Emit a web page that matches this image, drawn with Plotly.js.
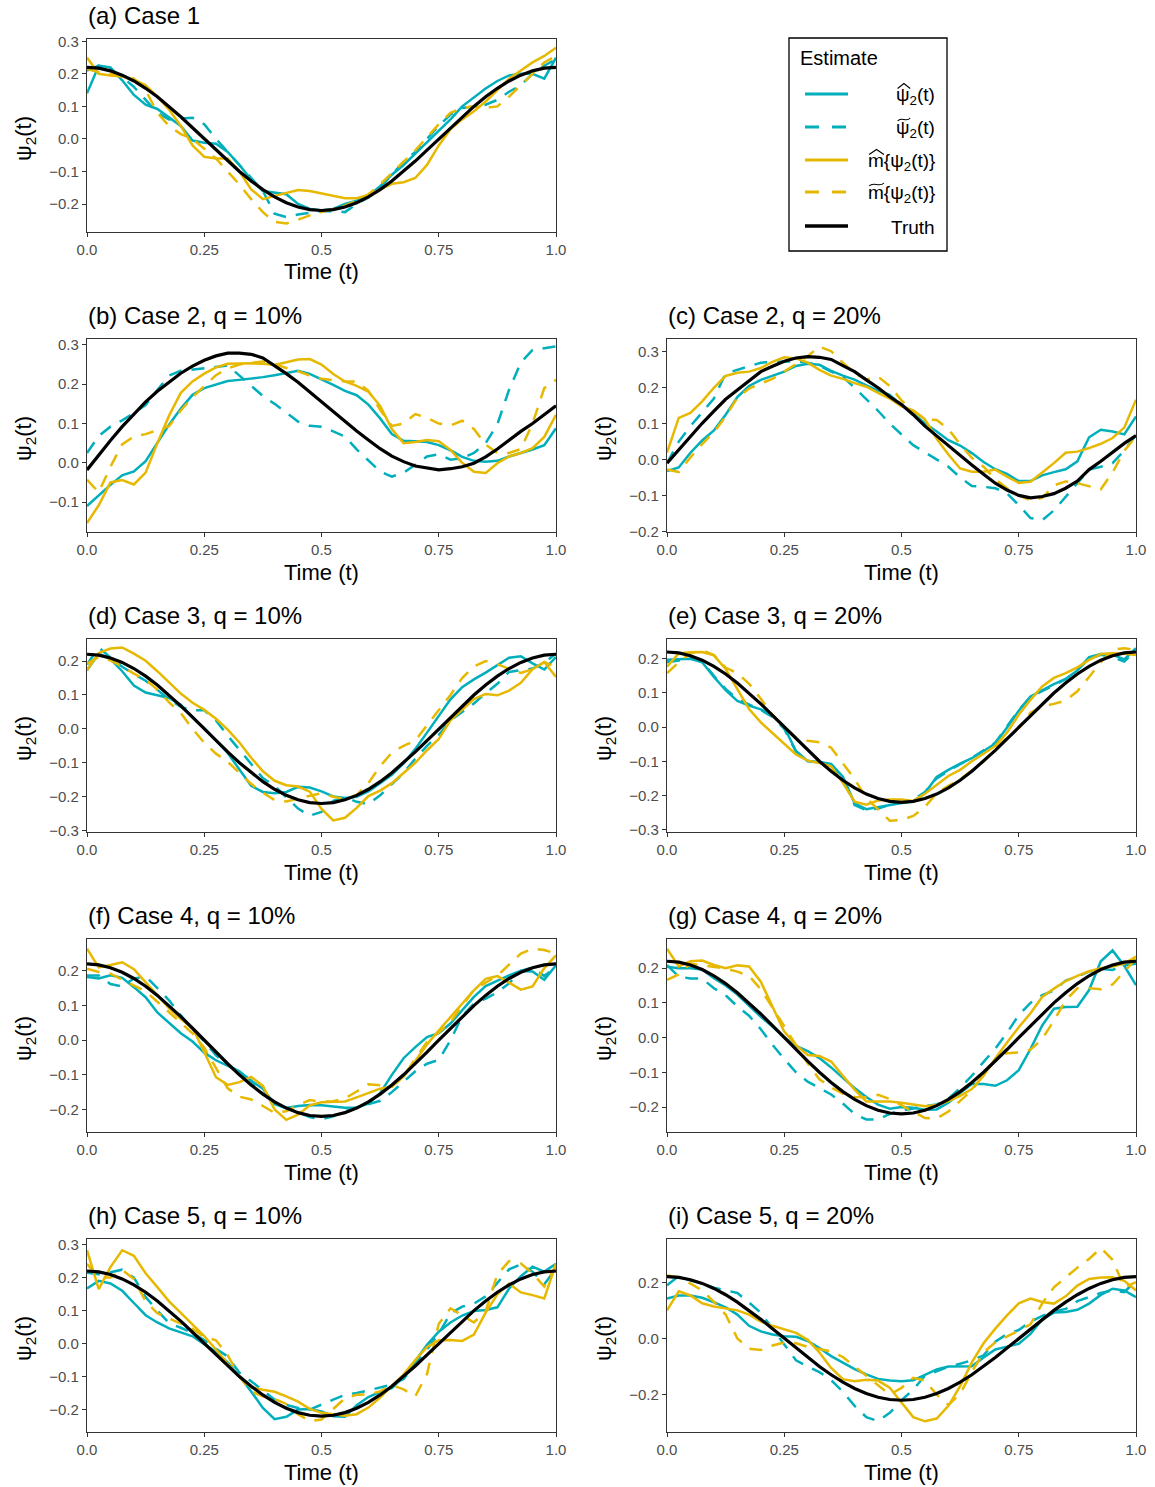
<!DOCTYPE html>
<html><head><meta charset="utf-8">
<script src="https://cdn.plot.ly/plotly-3.0.1.min.js"></script>
<style>html,body{margin:0;padding:0;background:#fff;}#chart{width:1155px;height:1487px;}</style>
</head><body><div id="chart"></div>
<script>
// ---------- data ----------
const time = [0,0.025,0.05,0.075,0.1,0.125,0.15,0.175,0.2,0.225,0.25,0.275,0.3,0.325,0.35,0.375,0.4,0.425,0.45,0.475,0.5,0.525,0.55,0.575,0.6,0.625,0.65,0.675,0.7,0.725,0.75,0.775,0.8,0.825,0.85,0.875,0.9,0.925,0.95,0.975,1];
const xTickVals = [0,0.25,0.5,0.75,1];
const xTickText = ['0.0','0.25','0.5','0.75','1.0'];

const truthCos = [0.22,0.2173,0.2092,0.196,0.178,0.1556,0.1293,0.0999,0.068,0.0344,0,-0.0344,-0.068,-0.0999,-0.1293,-0.1556,-0.178,-0.196,-0.2092,-0.2173,-0.22,-0.2173,-0.2092,-0.196,-0.178,-0.1556,-0.1293,-0.0999,-0.068,-0.0344,0,0.0344,0.068,0.0999,0.1293,0.1556,0.178,0.196,0.2092,0.2173,0.22];
const truthB = [-0.018,0.02,0.057,0.092,0.125,0.155,0.182,0.206,0.228,0.246,0.261,0.272,0.279,0.279,0.276,0.267,0.248,0.227,0.205,0.18,0.156,0.13,0.105,0.081,0.058,0.036,0.017,0.003,-0.008,-0.014,-0.018,-0.015,-0.01,-0.001,0.015,0.035,0.058,0.08,0.1,0.123,0.145];
const truthC = [-0.01,0.027,0.065,0.101,0.135,0.168,0.194,0.219,0.245,0.26,0.274,0.283,0.287,0.285,0.279,0.262,0.245,0.222,0.2,0.175,0.153,0.125,0.093,0.066,0.038,0.012,-0.015,-0.041,-0.066,-0.085,-0.1,-0.107,-0.103,-0.095,-0.08,-0.06,-0.028,-0.005,0.02,0.045,0.067];

// (a) Case 1
const a_psiHat   = [0.14,0.225,0.22,0.18,0.135,0.105,0.092,0.065,0.04,-0.005,-0.012,-0.015,-0.04,-0.08,-0.125,-0.16,-0.165,-0.17,-0.2,-0.215,-0.22,-0.215,-0.2,-0.19,-0.175,-0.145,-0.11,-0.08,-0.045,-0.01,0.025,0.06,0.1,0.128,0.155,0.178,0.195,0.2,0.2,0.185,0.25];
const a_psiTilde = [0.21,0.225,0.215,0.19,0.16,0.12,0.08,0.06,0.063,0.065,0.045,0.0,-0.04,-0.08,-0.12,-0.16,-0.23,-0.24,-0.232,-0.228,-0.222,-0.222,-0.225,-0.2,-0.18,-0.15,-0.11,-0.07,-0.04,0.0,0.04,0.075,0.095,0.1,0.105,0.12,0.145,0.165,0.2,0.225,0.245];
const a_mHat     = [0.25,0.2,0.195,0.192,0.182,0.165,0.13,0.09,0.04,-0.02,-0.055,-0.06,-0.06,-0.1,-0.155,-0.185,-0.175,-0.165,-0.157,-0.16,-0.168,-0.175,-0.182,-0.182,-0.172,-0.155,-0.138,-0.133,-0.12,-0.08,-0.02,0.03,0.06,0.085,0.115,0.15,0.185,0.21,0.235,0.255,0.28];
const a_mTilde   = [0.215,0.205,0.2,0.195,0.185,0.15,0.08,0.04,0.015,0.0,-0.03,-0.06,-0.1,-0.14,-0.185,-0.225,-0.255,-0.26,-0.248,-0.235,-0.225,-0.215,-0.205,-0.19,-0.17,-0.14,-0.105,-0.07,-0.035,0.005,0.045,0.08,0.095,0.1,0.095,0.1,0.13,0.165,0.2,0.235,0.255];

// (b) Case 2, q = 10%
const b_psiHat   = [-0.11,-0.083,-0.056,-0.032,-0.022,0.004,0.05,0.097,0.138,0.173,0.19,0.2,0.208,0.211,0.214,0.218,0.223,0.228,0.234,0.226,0.213,0.198,0.183,0.172,0.148,0.113,0.073,0.056,0.055,0.053,0.045,0.032,0.015,0.005,0.003,0.005,0.016,0.025,0.034,0.045,0.088];
const b_psiTilde = [0.025,0.068,0.092,0.108,0.127,0.147,0.185,0.222,0.234,0.237,0.241,0.244,0.248,0.222,0.196,0.17,0.15,0.128,0.105,0.094,0.092,0.08,0.067,0.034,0.005,-0.022,-0.035,-0.025,-0.005,0.016,0.022,0.008,0.012,0.025,0.05,0.098,0.186,0.255,0.287,0.292,0.296];
const b_mHat     = [-0.153,-0.108,-0.05,-0.044,-0.055,-0.025,0.05,0.12,0.178,0.207,0.227,0.243,0.252,0.253,0.253,0.252,0.249,0.256,0.263,0.264,0.25,0.226,0.207,0.196,0.181,0.145,0.086,0.05,0.053,0.058,0.055,0.033,0.0,-0.023,-0.026,-0.001,0.016,0.025,0.037,0.066,0.122];
const b_mTilde   = [-0.043,-0.075,-0.01,0.047,0.067,0.073,0.083,0.093,0.133,0.167,0.195,0.223,0.24,0.25,0.254,0.258,0.25,0.242,0.233,0.222,0.214,0.21,0.207,0.207,0.183,0.135,0.094,0.1,0.124,0.114,0.1,0.095,0.107,0.086,0.046,0.025,0.025,0.035,0.1,0.19,0.211];

// (c) Case 2, q = 20%
const c_psiHat   = [-0.032,-0.022,0.019,0.053,0.081,0.125,0.174,0.205,0.222,0.234,0.245,0.261,0.267,0.264,0.247,0.234,0.223,0.207,0.192,0.18,0.151,0.128,0.101,0.078,0.054,0.039,0.018,-0.007,-0.027,-0.04,-0.06,-0.06,-0.044,-0.035,-0.027,-0.005,0.062,0.083,0.078,0.07,0.12];
const c_psiTilde = [-0.01,0.05,0.093,0.13,0.17,0.24,0.25,0.262,0.27,0.272,0.274,0.274,0.27,0.262,0.245,0.23,0.2,0.167,0.136,0.1,0.07,0.04,0.02,0.0,-0.02,-0.05,-0.074,-0.076,-0.08,-0.094,-0.127,-0.163,-0.169,-0.142,-0.104,-0.066,-0.028,-0.02,-0.01,0.025,0.069];
const c_mHat     = [0.019,0.116,0.13,0.162,0.2,0.233,0.242,0.245,0.255,0.272,0.285,0.282,0.27,0.25,0.234,0.225,0.213,0.203,0.186,0.17,0.148,0.137,0.112,0.058,0.014,-0.025,-0.034,-0.034,-0.028,-0.048,-0.065,-0.062,-0.036,-0.01,0.019,0.022,0.032,0.044,0.06,0.089,0.167];
const c_mTilde   = [-0.028,-0.035,0.006,0.043,0.076,0.12,0.172,0.198,0.212,0.225,0.245,0.267,0.288,0.315,0.302,0.27,0.24,0.223,0.231,0.205,0.165,0.135,0.113,0.11,0.085,0.042,0.005,-0.02,-0.055,-0.08,-0.1,-0.114,-0.107,-0.072,-0.061,-0.066,-0.075,-0.083,-0.036,0.024,0.065];

// (d) Case 3, q = 10%
const d_psiHat   = [0.173,0.222,0.206,0.17,0.128,0.107,0.099,0.091,0.071,0.033,0.002,-0.035,-0.071,-0.12,-0.168,-0.186,-0.19,-0.186,-0.171,-0.173,-0.184,-0.199,-0.204,-0.2,-0.184,-0.16,-0.135,-0.102,-0.059,-0.011,0.039,0.087,0.123,0.146,0.166,0.189,0.21,0.214,0.193,0.175,0.212];
const d_psiTilde = [0.19,0.24,0.21,0.183,0.162,0.142,0.115,0.087,0.065,0.055,0.055,0.025,-0.02,-0.062,-0.105,-0.145,-0.168,-0.2,-0.235,-0.256,-0.245,-0.212,-0.202,-0.215,-0.222,-0.196,-0.162,-0.13,-0.088,-0.05,-0.018,0.025,0.05,0.075,0.105,0.133,0.168,0.172,0.178,0.195,0.222];
const d_mHat     = [0.173,0.224,0.237,0.24,0.222,0.201,0.17,0.137,0.104,0.077,0.056,0.03,-0.002,-0.04,-0.085,-0.125,-0.153,-0.166,-0.17,-0.185,-0.236,-0.27,-0.262,-0.233,-0.198,-0.182,-0.16,-0.13,-0.1,-0.063,-0.03,0.025,0.057,0.088,0.103,0.099,0.113,0.136,0.176,0.197,0.153];
const d_mTilde   = [0.192,0.212,0.202,0.184,0.163,0.145,0.116,0.078,0.047,0.0,-0.041,-0.073,-0.097,-0.13,-0.162,-0.188,-0.21,-0.214,-0.205,-0.197,-0.19,-0.2,-0.207,-0.195,-0.16,-0.11,-0.07,-0.05,-0.034,0.01,0.056,0.1,0.15,0.184,0.2,0.191,0.177,0.165,0.176,0.197,0.182];

// (e) Case 3, q = 20%
const e_psiHat   = [0.197,0.199,0.2,0.19,0.147,0.108,0.077,0.063,0.052,0.034,0.0,-0.07,-0.1,-0.102,-0.108,-0.145,-0.223,-0.24,-0.234,-0.226,-0.222,-0.217,-0.193,-0.146,-0.125,-0.107,-0.091,-0.07,-0.048,-0.001,0.048,0.09,0.109,0.126,0.141,0.166,0.205,0.214,0.212,0.198,0.231];
const e_psiTilde = [0.19,0.195,0.205,0.192,0.15,0.112,0.082,0.066,0.05,0.03,-0.005,-0.072,-0.098,-0.104,-0.112,-0.15,-0.228,-0.243,-0.238,-0.228,-0.22,-0.212,-0.19,-0.15,-0.128,-0.11,-0.09,-0.068,-0.045,0.002,0.05,0.088,0.106,0.122,0.14,0.168,0.2,0.212,0.205,0.192,0.225];
const e_mHat     = [0.177,0.216,0.219,0.22,0.21,0.17,0.111,0.053,0.014,-0.017,-0.049,-0.08,-0.098,-0.105,-0.115,-0.163,-0.218,-0.227,-0.215,-0.212,-0.212,-0.216,-0.195,-0.168,-0.143,-0.125,-0.1,-0.078,-0.055,-0.016,0.036,0.08,0.119,0.144,0.158,0.175,0.197,0.214,0.216,0.215,0.211];
const e_mTilde   = [0.158,0.19,0.216,0.225,0.211,0.174,0.158,0.127,0.083,0.035,0.0,-0.03,-0.04,-0.044,-0.06,-0.105,-0.152,-0.208,-0.241,-0.274,-0.272,-0.26,-0.234,-0.193,-0.172,-0.153,-0.127,-0.101,-0.063,-0.031,-0.002,0.042,0.061,0.068,0.078,0.105,0.147,0.19,0.227,0.231,0.226];

// (f) Case 4, q = 10%
const f_psiHat   = [0.182,0.178,0.187,0.18,0.153,0.124,0.08,0.05,0.02,-0.004,-0.036,-0.058,-0.075,-0.09,-0.117,-0.14,-0.185,-0.196,-0.19,-0.187,-0.188,-0.191,-0.195,-0.194,-0.183,-0.153,-0.1,-0.052,-0.02,0.009,0.02,0.048,0.088,0.125,0.156,0.172,0.187,0.2,0.198,0.174,0.216];
const f_psiTilde = [0.187,0.187,0.162,0.155,0.178,0.184,0.15,0.115,0.072,0.03,-0.003,-0.044,-0.07,-0.092,-0.117,-0.154,-0.183,-0.196,-0.211,-0.222,-0.228,-0.22,-0.205,-0.195,-0.183,-0.175,-0.15,-0.12,-0.09,-0.068,-0.057,0.0,0.07,0.105,0.12,0.138,0.164,0.2,0.21,0.185,0.211];
const f_mHat     = [0.264,0.21,0.217,0.225,0.205,0.167,0.127,0.092,0.061,0.035,-0.034,-0.107,-0.129,-0.121,-0.106,-0.132,-0.2,-0.23,-0.215,-0.188,-0.179,-0.178,-0.177,-0.165,-0.152,-0.14,-0.134,-0.105,-0.06,-0.012,0.028,0.067,0.105,0.144,0.177,0.185,0.166,0.146,0.155,0.208,0.245];
const f_mTilde   = [0.206,0.197,0.192,0.175,0.158,0.141,0.111,0.08,0.05,0.02,-0.022,-0.08,-0.139,-0.163,-0.171,-0.19,-0.21,-0.205,-0.187,-0.173,-0.178,-0.176,-0.168,-0.148,-0.127,-0.13,-0.134,-0.103,-0.055,-0.005,0.022,0.052,0.099,0.145,0.166,0.186,0.218,0.25,0.264,0.26,0.25];

// (g) Case 4, q = 20%
const g_psiHat   = [0.204,0.2,0.2,0.196,0.171,0.15,0.124,0.093,0.06,0.032,0.0,-0.024,-0.039,-0.059,-0.086,-0.116,-0.145,-0.171,-0.193,-0.205,-0.2,-0.202,-0.208,-0.207,-0.188,-0.16,-0.134,-0.134,-0.139,-0.123,-0.094,-0.033,0.035,0.083,0.088,0.089,0.137,0.22,0.251,0.207,0.151];
const g_psiTilde = [0.209,0.176,0.17,0.17,0.142,0.122,0.09,0.063,0.024,-0.021,-0.062,-0.1,-0.127,-0.145,-0.164,-0.19,-0.22,-0.236,-0.236,-0.22,-0.21,-0.204,-0.197,-0.193,-0.176,-0.145,-0.11,-0.07,-0.032,0.014,0.065,0.1,0.122,0.136,0.164,0.176,0.19,0.198,0.195,0.208,0.213];
const g_mHat     = [0.256,0.205,0.22,0.222,0.209,0.2,0.208,0.205,0.161,0.089,0.017,-0.022,-0.05,-0.053,-0.069,-0.11,-0.15,-0.184,-0.184,-0.184,-0.188,-0.194,-0.198,-0.194,-0.183,-0.168,-0.148,-0.11,-0.06,-0.014,0.03,0.07,0.117,0.141,0.163,0.178,0.191,0.2,0.205,0.213,0.233];
const g_mTilde   = [0.166,0.182,0.213,0.209,0.205,0.199,0.19,0.178,0.139,0.087,0.033,-0.022,-0.074,-0.12,-0.144,-0.161,-0.171,-0.172,-0.165,-0.177,-0.194,-0.213,-0.232,-0.233,-0.213,-0.183,-0.152,-0.107,-0.065,-0.045,-0.043,-0.035,-0.004,0.049,0.107,0.142,0.142,0.139,0.153,0.19,0.228];

// (h) Case 5, q = 10%
const h_psiHat   = [0.167,0.19,0.182,0.16,0.123,0.086,0.064,0.046,0.034,0.022,-0.002,-0.025,-0.057,-0.099,-0.145,-0.195,-0.229,-0.222,-0.2,-0.198,-0.206,-0.22,-0.222,-0.187,-0.162,-0.146,-0.135,-0.1,-0.053,-0.004,0.036,0.064,0.085,0.099,0.102,0.11,0.167,0.204,0.233,0.218,0.242];
const h_psiTilde = [0.215,0.21,0.216,0.224,0.2,0.141,0.1,0.062,0.048,0.032,0.011,-0.016,-0.039,-0.088,-0.114,-0.143,-0.17,-0.186,-0.195,-0.2,-0.186,-0.17,-0.155,-0.15,-0.142,-0.133,-0.124,-0.107,-0.064,-0.018,0.03,0.092,0.112,0.121,0.143,0.185,0.225,0.24,0.218,0.18,0.227];
const h_mHat     = [0.283,0.165,0.232,0.283,0.266,0.213,0.171,0.128,0.093,0.059,0.023,-0.018,-0.062,-0.101,-0.133,-0.14,-0.146,-0.16,-0.176,-0.198,-0.21,-0.214,-0.219,-0.214,-0.194,-0.164,-0.13,-0.093,-0.05,-0.01,0.01,0.011,0.008,0.027,0.094,0.149,0.182,0.155,0.147,0.137,0.242];
const h_mTilde   = [0.242,0.2,0.2,0.223,0.196,0.128,0.092,0.077,0.06,0.045,0.02,0.01,-0.035,-0.1,-0.145,-0.16,-0.168,-0.183,-0.214,-0.235,-0.23,-0.197,-0.166,-0.155,-0.154,-0.145,-0.126,-0.139,-0.16,-0.092,0.06,0.107,0.085,0.064,0.098,0.21,0.25,0.243,0.212,0.173,0.237];

// (i) Case 5, q = 20%
const i_psiHat   = [0.142,0.153,0.153,0.145,0.129,0.111,0.085,0.045,0.025,0.014,0.008,0.006,-0.009,-0.034,-0.063,-0.086,-0.109,-0.128,-0.144,-0.15,-0.152,-0.149,-0.129,-0.11,-0.1,-0.1,-0.099,-0.068,-0.039,-0.029,-0.019,0.016,0.068,0.092,0.094,0.102,0.124,0.155,0.177,0.171,0.147];
const i_psiTilde = [0.189,0.222,0.206,0.196,0.181,0.172,0.162,0.128,0.091,0.035,-0.02,-0.078,-0.1,-0.12,-0.148,-0.19,-0.24,-0.28,-0.294,-0.265,-0.22,-0.182,-0.133,-0.116,-0.101,-0.09,-0.078,-0.06,-0.012,0.016,0.03,0.06,0.08,0.096,0.105,0.133,0.148,0.162,0.171,0.165,0.206];
const i_mHat     = [0.1,0.168,0.153,0.125,0.114,0.108,0.1,0.085,0.06,0.045,0.032,0.02,-0.005,-0.05,-0.105,-0.145,-0.152,-0.147,-0.15,-0.175,-0.228,-0.28,-0.295,-0.285,-0.24,-0.17,-0.085,-0.017,0.035,0.082,0.125,0.142,0.13,0.124,0.15,0.188,0.212,0.217,0.218,0.205,0.171];
const i_mTilde   = [0.224,0.218,0.195,0.171,0.13,0.085,0.0,-0.037,-0.041,-0.025,-0.014,-0.017,-0.03,-0.039,-0.046,-0.066,-0.099,-0.133,-0.165,-0.2,-0.176,-0.14,-0.15,-0.2,-0.237,-0.197,-0.119,-0.05,-0.014,0.006,0.028,0.05,0.125,0.182,0.217,0.252,0.283,0.322,0.28,0.182,0.2];

const panelTitles = ['(a) Case 1','(b) Case 2, q = 10%','(c) Case 2, q = 20%','(d) Case 3, q = 10%','(e) Case 3, q = 20%','(f) Case 4, q = 10%','(g) Case 4, q = 20%','(h) Case 5, q = 10%','(i) Case 5, q = 20%'];
// legend labels; the hat / tilde accents are drawn as small strokes above the first glyph
const seriesNames = ['\u03C8<sub>2</sub>(t)','\u03C8<sub>2</sub>(t)','m{\u03C8<sub>2</sub>(t)}','m{\u03C8<sub>2</sub>(t)}','Truth'];
const seriesAccent = ['hat','tilde','hat','tilde',null];

// ---------- layout helpers ----------
const W = 1155, H = 1487;
const px = x => x / W;
const py = y => 1 - y / H;
const colX = [[87, 556], [667, 1136]];
const rowTop = [39, 339, 639, 939, 1239];
const boxH = 193;

const panels = [
  {title:0, s:[a_psiHat,a_psiTilde,a_mHat,a_mTilde], truth:truthCos, yr:[-0.286,0.307], yt:[-0.2,-0.1,0,0.1,0.2,0.3], col:0,row:0},
  {title:1, s:[b_psiHat,b_psiTilde,b_mHat,b_mTilde], truth:truthB, yr:[-0.176,0.315], yt:[-0.1,0,0.1,0.2,0.3], col:0,row:1},
  {title:2, s:[c_psiHat,c_psiTilde,c_mHat,c_mTilde], truth:truthC, yr:[-0.202,0.336], yt:[-0.2,-0.1,0,0.1,0.2,0.3], col:1,row:1},
  {title:3, s:[d_psiHat,d_psiTilde,d_mHat,d_mTilde], truth:truthCos, yr:[-0.304,0.265], yt:[-0.3,-0.2,-0.1,0,0.1,0.2], col:0,row:2},
  {title:4, s:[e_psiHat,e_psiTilde,e_mHat,e_mTilde], truth:truthCos, yr:[-0.307,0.258], yt:[-0.3,-0.2,-0.1,0,0.1,0.2], col:1,row:2},
  {title:5, s:[f_psiHat,f_psiTilde,f_mHat,f_mTilde], truth:truthCos, yr:[-0.265,0.292], yt:[-0.2,-0.1,0,0.1,0.2], col:0,row:3},
  {title:6, s:[g_psiHat,g_psiTilde,g_mHat,g_mTilde], truth:truthCos, yr:[-0.272,0.284], yt:[-0.2,-0.1,0,0.1,0.2], col:1,row:3},
  {title:7, s:[h_psiHat,h_psiTilde,h_mHat,h_mTilde], truth:truthCos, yr:[-0.268,0.317], yt:[-0.2,-0.1,0,0.1,0.2,0.3], col:0,row:4},
  {title:8, s:[i_psiHat,i_psiTilde,i_mHat,i_mTilde], truth:truthCos, yr:[-0.333,0.354], yt:[-0.2,0,0.2], col:1,row:4}
];

const TEAL = '#00AFBB', GOLD = '#E7B800';
const DASH = '13px,10px';
const styles = [
  {color:TEAL, dash:'solid', width:2.5},
  {color:TEAL, dash:DASH, width:2.5},
  {color:GOLD, dash:'solid', width:2.5},
  {color:GOLD, dash:DASH, width:2.5},
  {color:'#000000', dash:'solid', width:3.2}
];
const FONT = 'Liberation Sans, Arial, Helvetica, sans-serif';
const fmt = v => (v < 0 ? '\u2212' : '') + Math.abs(v).toFixed(1);

const traces = [];
const layout = {
  width: W, height: H,
  margin: {l:0, r:0, t:0, b:0},
  paper_bgcolor: '#ffffff', plot_bgcolor: '#ffffff',
  showlegend: false,
  font: {family: FONT, color: '#000000'},
  annotations: [], shapes: []
};

panels.forEach((p, i) => {
  const n = i + 1;
  const xa = 'x' + (n === 1 ? '' : n), ya = 'y' + (n === 1 ? '' : n);
  const top = rowTop[p.row];
  const [x0, x1] = colX[p.col];
  const allSeries = p.s.concat([p.truth]);
  allSeries.forEach((vals, k) => {
    traces.push({
      type: 'scatter', mode: 'lines', x: time, y: vals,
      xaxis: xa, yaxis: ya, hoverinfo: 'skip',
      line: {color: styles[k].color, width: styles[k].width, dash: styles[k].dash}
    });
  });
  const axCommon = {
    showline: true, mirror: true, linecolor: '#333333', linewidth: 1.1,
    ticks: 'outside', ticklen: 4, tickwidth: 1, tickcolor: '#333333',
    showgrid: false, zeroline: false, fixedrange: true,
    tickfont: {size: 15, color: '#4d4d4d', family: FONT}
  };
  layout['xaxis' + (n === 1 ? '' : n)] = Object.assign({}, axCommon, {
    domain: [px(x0), px(x1)], anchor: ya, range: [0, 1],
    tickmode: 'array', tickvals: xTickVals, ticktext: xTickText
  });
  layout['yaxis' + (n === 1 ? '' : n)] = Object.assign({}, axCommon, {
    domain: [py(top + boxH), py(top)], anchor: xa, range: p.yr,
    tickmode: 'array', tickvals: p.yt, ticktext: p.yt.map(fmt)
  });
  layout.annotations.push({
    xref:'paper', yref:'paper', x: px(x0 - 1), y: py(top - 24),
    xanchor:'left', yanchor:'middle', showarrow:false,
    text: panelTitles[p.title], font:{size:24, family:FONT, color:'#000'}
  });
  layout.annotations.push({
    xref:'paper', yref:'paper', x: px((x0 + x1) / 2), y: py(top + 233),
    xanchor:'center', yanchor:'middle', showarrow:false,
    text: 'Time (t)', font:{size:22, family:FONT, color:'#000'}
  });
  layout.annotations.push({
    xref:'paper', yref:'paper', x: px(x0 - 62), y: py(top + 100),
    xanchor:'center', yanchor:'middle', showarrow:false, textangle:-90,
    text: '\u03C8<sub>2</sub>(t)', font:{size:22, family:FONT, color:'#000'}
  });
});

// ---------- legend (drawn in paper space) ----------
layout.shapes.push({type:'rect', xref:'paper', yref:'paper',
  x0: px(789), x1: px(947), y0: py(251), y1: py(38),
  line:{color:'#000000', width:1.3}, fillcolor:'rgba(0,0,0,0)'});
layout.annotations.push({xref:'paper', yref:'paper', x: px(798), y: py(58),
  xanchor:'left', yanchor:'middle', showarrow:false, text:'Estimate',
  font:{size:20, family:FONT, color:'#000'}});

const cv = document.createElement('canvas').getContext('2d');
const LFS = 19;
const meas = (s, fs) => { cv.font = fs + 'px "Liberation Sans", Arial, sans-serif'; return cv.measureText(s).width; };
const labelParts = [
  ['\u03C8', '2', '(t)'], ['\u03C8', '2', '(t)'],
  ['m{\u03C8', '2', '(t)}'], ['m{\u03C8', '2', '(t)}'], ['Truth', '', '']
];
const firstGlyph = ['\u03C8', '\u03C8', 'm', 'm', ''];
const LABEL_RIGHT = 937;
const legendY = [94, 127, 160, 192, 226];
legendY.forEach((yy, k) => {
  layout.shapes.push({type:'line', xref:'paper', yref:'paper',
    x0: px(805), x1: px(848), y0: py(yy), y1: py(yy),
    line:{color: styles[k].color, width: styles[k].width + 0.3, dash: k === 1 || k === 3 ? '14px,13px' : 'solid'}});
  const ty = yy + 2;
  layout.annotations.push({xref:'paper', yref:'paper', x: px(LABEL_RIGHT), y: py(ty),
    xanchor:'right', yanchor:'middle', showarrow:false, text: seriesNames[k],
    font:{size:LFS, family:FONT, color:'#000'}});
  if (seriesAccent[k]) {
    const parts = labelParts[k];
    const total = meas(parts[0], LFS) + meas(parts[1], LFS * 0.7) + meas(parts[2], LFS);
    const start = LABEL_RIGHT - 1 - total;
    const gw = meas(firstGlyph[k], LFS);
    const ax0 = start + 0.5, ax1 = start + gw - 0.5, axm = (ax0 + ax1) / 2;
    if (seriesAccent[k] === 'hat') {
      const yb = ty - 7.5, yt = ty - 12.5;
      layout.shapes.push({type:'path', xref:'paper', yref:'paper',
        path: `M ${px(ax0)},${py(yb)} L ${px(axm)},${py(yt)} L ${px(ax1)},${py(yb)}`,
        line:{color:'#000', width:1.1}});
    } else {
      const ym = ty - 9.5, w = ax1 - ax0;
      layout.shapes.push({type:'path', xref:'paper', yref:'paper',
        path: `M ${px(ax0)},${py(ym + 1.5)} C ${px(ax0 + w * 0.3)},${py(ym - 3.5)} ${px(ax0 + w * 0.7)},${py(ym + 3.5)} ${px(ax1)},${py(ym - 1.5)}`,
        line:{color:'#000', width:1.1}});
    }
  }
});

Plotly.newPlot('chart', traces, layout, {staticPlot:true, displayModeBar:false});
</script>
</body></html>
